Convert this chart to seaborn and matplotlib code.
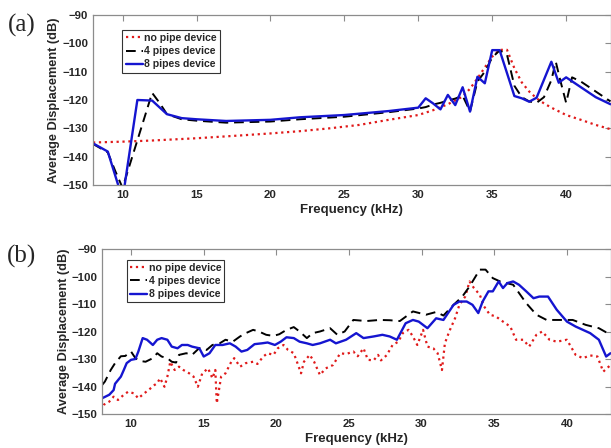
import matplotlib
matplotlib.use("Agg")
import matplotlib.pyplot as plt
import seaborn as sns

# ---- panel (a): simulated response ----
a_freq_none = [8, 10, 12, 15, 18, 20, 22, 24, 26, 28, 30, 31, 32, 33, 33.5, 34, 34.5,
               35, 35.5, 36, 36.5, 37, 37.5, 38, 38.5, 39, 40, 41, 42, 43]
a_none = [-135, -134.7, -134.3, -133.5, -132.5, -131.8, -131, -130, -128.8, -127,
          -125.3, -123.6, -121.5, -118.8, -116, -112.4, -108.5, -104.7, -102.3, -102.3,
          -108.8, -113.8, -117, -119.4, -121.2, -122.7, -125.3, -127, -128.8, -130.3]

a_freq_4 = [8, 9, 9.5, 10, 12, 12.5, 13, 14, 15, 17, 20, 22, 25, 28, 30, 30.5, 31, 31.5,
            32, 32.5, 33, 33.5, 34, 34.5, 35, 35.5, 36, 36.5, 37, 37.5, 38, 38.5, 39,
            39.3, 39.6, 40, 40.4, 41, 42, 43]
a_4 = [-135.5, -138.5, -145, -151, -117.5, -121, -125, -126.8, -127.3, -128, -127.6,
       -126.8, -125.9, -124.3, -123, -122.5, -121.6, -121, -120.2, -119.5, -118.5, -124,
       -113.5, -110, -105, -102.5, -104, -115, -119, -120.5, -121, -119, -113,
       -106.5, -113, -121, -112, -113.5, -117, -120.5]

a_freq_8 = [8, 9, 10, 11, 12, 13, 14, 15, 17, 20, 22, 25, 28, 30, 30.5, 31, 31.5, 32,
            32.5, 33, 33.5, 34, 34.5, 35, 35.5, 36, 36.5, 37, 37.5, 38, 39, 39.5, 40,
            41, 42, 43]
a_8 = [-135.3, -138.2, -155, -120, -120.2, -125, -126.4, -126.8, -127.4, -127, -126.1,
       -125.3, -123.9, -122.7, -119.4, -121.2, -123.3, -118.2, -121.8, -115.5, -124.1,
       -111.8, -114.1, -102.4, -102.4, -110.5, -118.6, -119.4, -120.6, -119.2, -106.5,
       -113.9, -112, -115.5, -119, -121.5]

# ---- panel (b): measured response ----
b_freq_none = [7.9, 8.1, 8.5, 8.8, 9.1, 9.5, 9.8, 10.2, 10.5, 10.9, 11.2, 11.6, 11.8, 12.0,
               12.3, 12.5, 12.7, 13.0, 13.3, 13.6, 14.0, 14.3, 14.6, 14.9, 15.3, 15.6,
               15.8, 15.9, 16.2, 16.5, 16.9, 17.1, 17.5, 17.9, 18.4, 18.7, 19.1, 19.4,
               19.8, 20.1, 20.5, 20.8, 21.2, 21.5, 21.7, 21.9, 22.3, 22.6, 23.0, 23.4,
               23.9, 24.4, 24.8, 25.3, 25.6, 26.0, 26.3, 26.7, 27.0, 27.2, 27.6, 28.0,
               28.4, 28.7, 29.1, 29.4, 29.7, 30.1, 30.4, 30.8, 31.1, 31.4, 31.6, 31.9,
               32.3, 32.6, 33.0, 33.3, 33.6, 34.0, 34.3, 34.7, 35.1, 35.6, 36.1, 36.5,
               37.0, 37.4, 37.9, 38.3, 38.8, 39.3, 40.0, 40.6, 41.1, 41.6, 42.1, 42.5, 43.0]
b_none = [-148.6, -146.7, -145.5, -143.7, -144.9, -143, -141.9, -142.5, -144.3, -142.5,
          -141.3, -139.5, -138.8, -137, -140.1, -136.4, -131, -134, -132.8, -134, -135.2,
          -136.4, -140.1, -135.2, -133.4, -137, -134, -146.1, -136.4, -135.2, -131, -129.7,
          -132.8, -131.5, -131, -131.8, -129.1, -127.9, -128.5, -126.1, -124.9, -126.7,
          -127.9, -132.2, -135.2, -131, -128.5, -131, -135.8, -133.4, -132.2, -127.9,
          -128.2, -127.3, -129, -126.1, -130.3, -130.5, -128.5, -130.5, -128.6, -124.9,
          -123.7, -120.6, -119.4, -121.8, -124.9, -119.4, -125.5, -126.1, -127.9, -134,
          -124.3, -120, -115.2, -110.3, -107.3, -101.8, -104.2, -106.6, -110.9, -113.9,
          -114.5, -116.4, -118.2, -123, -123, -125.5, -121.2, -120, -123, -123.7, -123,
          -128.5, -129.7, -128.7, -129.1, -134.6, -132.2]

b_freq_4 = [8.0, 8.2, 8.6, 8.9, 9.3, 9.6, 10.0, 10.3, 10.6, 11.0, 11.5, 11.8, 12.1, 12.5,
            12.8, 13.1, 13.3, 13.8, 14.2, 14.7, 15.2, 15.6, 16.1, 16.5, 17.0, 17.5, 17.9,
            18.4, 18.8, 19.3, 19.8, 20.2, 20.7, 21.2, 21.6, 22.1, 22.5, 23.0, 23.7, 24.2,
            24.7, 25.3, 26.2, 27.1, 27.8, 28.5, 29.4, 30.3, 31.0, 31.5, 32.2, 32.8, 33.3,
            34.0, 34.4, 34.9, 35.4, 36.3, 37.2, 37.9, 38.6, 39.5, 40.4, 41.3, 42.2, 43.0]
b_4 = [-139.5, -138.2, -134, -131.5, -129, -128.9, -127.3, -129.7, -130.7, -131, -129.7,
       -127.9, -129.1, -129.7, -131, -131.3, -128.5, -127.9, -128.5, -126, -126.7, -124.9,
       -124.3, -123, -123.7, -121.8, -120.6, -119.4, -120, -121.2, -121.6, -121, -119.4,
       -118.4, -120, -122.4, -120.6, -120, -118.8, -121.2, -120, -115.8, -116.2, -115.8,
       -115.9, -116.2, -112.7, -113.9, -112.9, -114.2, -110.3, -107.3, -103.6, -97.5,
       -97.5, -100.6, -101.8, -103, -109.7, -113.9, -115.8, -115.8, -115.8, -117.6,
       -118.8, -121.2]

b_freq_8 = [7.9, 8.0, 8.5, 8.8, 8.9, 9.3, 9.5, 9.7, 10.0, 10.3, 10.5, 10.8, 11.1, 11.5,
            11.8, 12.1, 12.5, 12.8, 13.2, 13.5, 13.9, 14.2, 14.7, 15.0, 15.4, 15.8, 16.3,
            16.8, 17.2, 17.6, 18.0, 18.5, 19.0, 19.4, 19.9, 20.3, 20.7, 21.2, 21.6, 22.1,
            22.5, 23.0, 23.7, 24.1, 24.8, 25.5, 26.0, 26.7, 27.3, 27.8, 28.3, 28.9, 29.4,
            29.8, 30.4, 31.0, 31.5, 32.2, 32.6, 33.1, 33.5, 33.9, 34.2, 34.6, 34.9, 35.3,
            35.6, 35.9, 36.3, 36.7, 37.2, 37.7, 38.1, 38.7, 39.3, 40.0, 40.6, 41.1, 41.6,
            42.2, 42.7, 43.0]
b_8 = [-145.5, -144.3, -143, -141.3, -139, -136.4, -134, -131.5, -130.3, -130, -127.3,
       -122.4, -123, -124.9, -123, -122.4, -123, -125.5, -126.1, -124.9, -124.9, -125.5,
       -126.1, -129.1, -127.9, -124.9, -124.9, -124.3, -125.5, -127.3, -126.7, -124.6,
       -124.3, -124, -124.9, -123.7, -122.1, -122.4, -123.7, -124.3, -124.9, -124.3, -123,
       -124.3, -123, -120.6, -122.4, -121.8, -121.2, -121.8, -123, -117, -115.8, -116.4,
       -118.8, -115.2, -115.8, -110.3, -109.1, -109.1, -110.3, -113.3, -109.1, -105.4,
       -105.4, -101.8, -104.2, -102.4, -101.8, -103, -105.4, -107.9, -107.3, -107.3,
       -112.1, -116.4, -118.2, -119.4, -120.6, -123, -129.1, -127.9]

labels = ["no pipe device", "4 pipes device", "8 pipes device"]
red, black, blue = "#e01a1a", "black", "#1515d0"

sns.set_style("white")
plt.rcParams["font.family"] = ["Liberation Sans", "DejaVu Sans"]
plt.rcParams["font.weight"] = "bold"
plt.rcParams["axes.labelweight"] = "bold"

fig = plt.figure(figsize=(6.11, 4.48), dpi=100)
ax_a = fig.add_axes([93 / 611, 1 - 185 / 448, 517.5 / 611, 170 / 448])
ax_b = fig.add_axes([102 / 611, 1 - 414 / 448, 508.5 / 611, 165 / 448])

panels = [
    (ax_a, (a_freq_none, a_none), (a_freq_4, a_4), (a_freq_8, a_8), 0.057, 0.912, "(a)", 25, -0.063),
    (ax_b, (b_freq_none, b_none), (b_freq_4, b_4), (b_freq_8, b_8), 0.049, 0.935, "(b)", 256, -0.062),
]

for ax, s0, s4, s8, lx, ly, tag, ty, ylx in panels:
    sns.lineplot(x=s0[0], y=s0[1], ax=ax, color=red, linestyle=":", linewidth=1.6,
                 label=labels[0], sort=False)
    sns.lineplot(x=s4[0], y=s4[1], ax=ax, color=black, linestyle=(0, (5, 3)), linewidth=1.4,
                 label=labels[1], sort=False)
    sns.lineplot(x=s8[0], y=s8[1], ax=ax, color=blue, linestyle="-", linewidth=1.7,
                 label=labels[2], sort=False)
    ax.set_xlim(8, 43)
    ax.set_ylim(-150, -90)
    ax.set_xticks([10, 15, 20, 25, 30, 35, 40])
    ax.set_yticks([-90, -100, -110, -120, -130, -140, -150])
    ax.tick_params(direction="in", top=True, right=True, length=4, width=0.8,
                   color="#8c8c8c", labelsize=8.2, labelcolor="#262626", pad=3.5)
    for sp in ax.spines.values():
        sp.set_color("#8c8c8c")
        sp.set_linewidth(0.9)
    ax.set_xlabel("Frequency (kHz)", fontsize=9.5, color="#262626", labelpad=3)
    ax.set_ylabel("Average Displacement (dB)", fontsize=9.2, color="#262626")
    ax.yaxis.set_label_coords(ylx, 0.5)
    leg = ax.legend(loc="upper left", bbox_to_anchor=(lx, ly), borderaxespad=0,
                    fontsize=7.6, frameon=True, fancybox=False, handlelength=1.6,
                    handletextpad=0.15, labelspacing=0.3, borderpad=0.3)
    leg.get_frame().set_edgecolor("black")
    leg.get_frame().set_linewidth(0.8)
    fig.text(22 / 611, 1 - ty / 448, tag, fontsize=18, family="Liberation Serif",
             weight="normal", ha="center", va="center")

fig.savefig("out.png", dpi=100)
